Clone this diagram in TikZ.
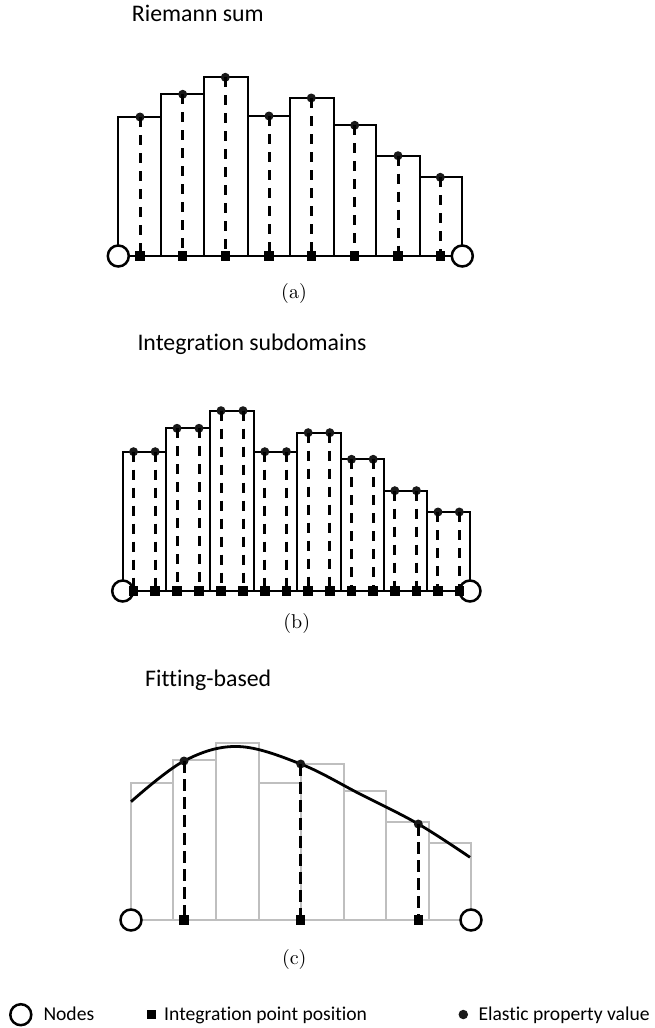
\documentclass[tikz,border=0pt]{standalone}
\usepackage{fontspec}
\usepackage{graphicx}
\newfontfamily\calib{Carlito}[RawFeature={-liga}]
\begin{document}
\begin{tikzpicture}[x=1pt,y=-1pt,
  bar/.style={line width=2.3pt,black},
  gbar/.style={line width=2.2pt,black!25},
  dline/.style={line width=3pt,dash pattern=on 10pt off 8pt},
  nodec/.style={circle,draw,fill=white,line width=2.5pt,minimum size=21pt,inner sep=0pt},
  ipt/.style={rectangle,fill=black,minimum size=9.5pt,inner sep=0pt},
  epv/.style={circle,fill=black!90,minimum size=9pt,inner sep=0pt},
  title/.style={anchor=base west,inner sep=0pt,font=\calib\fontsize{23.8}{28}\selectfont},
  legtxt/.style={anchor=base west,inner sep=0pt,font=\calib\fontsize{19.6}{23}\selectfont},
  lab/.style={inner sep=0pt}]
\useasboundingbox (0,0) rectangle (655,1028);

% ---------------- (a) Riemann sum ----------------
\node[title] (ta) at (131.7,21.7) {Riemann sum};
\foreach \l/\r/\t [count=\i] in {118.3/161/117,161/204.3/94.3,204.3/248/77.3,248/290.3/116,290.3/333.7/98,333.7/376.3/125.3,376.3/419.7/155.7,419.7/462.3/177.3}{
  \draw[bar] (\l,256) rectangle (\r,\t);
}
\draw[bar] (118.3,256) -- (462.3,256);
\node[nodec] (na1) at (118.3,256) {};
\node[nodec] (na2) at (462.3,256) {};
\foreach \p/\t [count=\i] in {140/117,182.7/94.3,225.3/77.3,269/116,311.3/98,354.7/125.3,398/155.7,440.3/177.3}{
  \node[ipt] (sa\i) at (\p,256) {};
  \node[epv] (da\i) at (\p,\t) {};
  \draw[dline] (da\i.center) -- (sa\i.north);
}
\node[lab] (la) at (294,293) {\scalebox{2}{(a)}};

% ---------------- (b) Integration subdomains ----------------
\node[title] (tb) at (137.3,350.7) {Integration subdomains};
\foreach \l/\r/\t in {122.7/166/451.7,166/210/428.3,210/254/410.7,254/297.3/451.7,297.3/340.7/432.7,340.7/384/459.3,384/427.3/490.7,427.3/470/512}{
  \draw[bar] (\l,591) rectangle (\r,\t);
}
\draw[bar] (122.7,591) -- (470,591);
\node[nodec] (nb1) at (122.7,591) {};
\node[nodec] (nb2) at (470,591) {};
\foreach \l/\r/\t [count=\i] in {122.7/166/451.7,166/210/428.3,210/254/410.7,254/297.3/451.7,297.3/340.7/432.7,340.7/384/459.3,384/427.3/490.7,427.3/470/512}{
  \pgfmathsetmacro{\pa}{\l+0.25*(\r-\l)}
  \pgfmathsetmacro{\pb}{\l+0.75*(\r-\l)}
  \node[ipt] (sba\i) at (\pa,591) {};
  \node[ipt] (sbb\i) at (\pb,591) {};
  \node[epv] (dba\i) at (\pa,\t) {};
  \node[epv] (dbb\i) at (\pb,\t) {};
  \draw[dline] (dba\i.center) -- (sba\i.north);
  \draw[dline] (dbb\i.center) -- (sbb\i.north);
}
\node[lab] (lb) at (296.7,623) {\scalebox{2}{(b)}};

% ---------------- (c) Fitting-based ----------------
\node[title] (tc) at (145,686.7) {Fitting-based};
\foreach \l/\r/\t in {131/173.3/782.7,173.3/216/760,216/258.7/742.7,258.7/301/782.7,301/343.7/764,343.7/386/791,386/428.7/821.7,428.7/471/842.7}{
  \draw[gbar] (\l,920) rectangle (\r,\t);
}
\draw[gbar] (131,920) -- (471,920);
\node[nodec] (nc1) at (131,920) {};
\node[nodec] (nc2) at (471,920) {};
\draw[line width=2.8pt,black] plot[smooth,tension=0.6] coordinates {(131,801.7) (184,761) (238,746.5) (300.7,764) (360,794) (418.3,824) (470,857.3)};
\foreach \p/\t [count=\i] in {184/761,300.7/764,418.3/824}{
  \node[ipt] (sc\i) at (\p,920) {};
  \node[epv] (dc\i) at (\p,\t) {};
  \draw[dline,dash pattern=on 12pt off 6pt] (dc\i.center) -- (sc\i.north);
}
\node[lab] (lc) at (294.3,959) {\scalebox{2}{(c)}};

% ---------------- legend ----------------
\node[nodec,minimum size=21pt] (lgn) at (20.8,1014.7) {};
\node[legtxt] (lgnt) at (43.3,1020.7) {Nodes};
\node[ipt,minimum size=9pt] (lgs) at (151,1014.5) {};
\node[legtxt] (lgst) at (164,1020.7) {Integration point position};
\node[epv,minimum size=9.5pt] (lgd) at (463.3,1014.5) {};
\node[legtxt] (lgdt) at (478.3,1020.7) {Elastic property value};
\end{tikzpicture}
\end{document}
